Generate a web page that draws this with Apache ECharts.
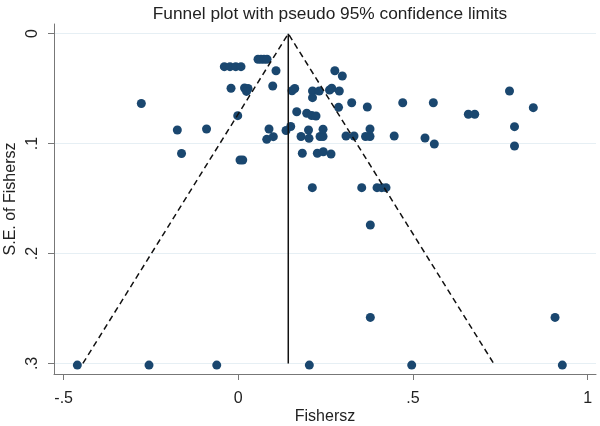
<!DOCTYPE html>
<html>
<head>
<meta charset="utf-8">
<script src="https://cdn.jsdelivr.net/npm/echarts@6/dist/echarts.min.js"></script>
<style>html,body{margin:0;padding:0;background:#fff}#c{width:600px;height:426px}</style>
</head>
<body>
<div id="c"></div>
<script>
const titleText = 'Funnel plot with pseudo 95% confidence limits';
const xTickValues = [-0.5, 0, 0.5, 1];
const xTickLabels = ['-.5', '0', '.5', '1'];
const yTickValues = [0, 0.1, 0.2, 0.3];
const yTickLabels = ['0', '.1', '.2', '.3'];
const pooledEstimate = 0.143;
const seMax = 0.3;

const fishersz = [
  -0.2777, -0.0401, -0.0238, -0.0074, 0.0077, 0.0564, 0.0650, 0.0736, 0.0822, 0.1079,
  -0.0209, 0.0178, 0.0278, 0.0235, 0.0985, -0.0017, -0.1746, -0.0910, -0.1626, 0.0049,
  0.0126, 0.0879, 0.0813, 0.1002, 0.1366, 0.1500, 0.1537, 0.1615, 0.1672, 0.1795,
  0.1832, 0.2763, 0.2977, 0.2124, 0.2316, 0.2124, 0.2611, 0.2674, 0.2891, 0.2869,
  0.3246, 0.3693, 0.4707, 0.5583, 0.7764, 0.8445, 0.6585, 0.6768, 0.7907, 0.7907,
  0.1958, 0.2101, 0.2224, 0.2010, 0.2024, 0.2339, 0.2425, 0.2425, 0.3083, 0.3312,
  0.3642, 0.3770, 0.3770, 0.4463, 0.5345, 0.5611, 0.2262, 0.2433, 0.2654, 0.2119,
  0.3533, 0.3971, 0.4105, 0.4228, 0.3779, 0.3779, 0.9067, -0.4609, -0.2557, -0.0618,
  0.2033, 0.4964, 0.9276
];
const seFishersz = [
  0.0635, 0.0300, 0.0300, 0.0300, 0.0300, 0.0233, 0.0233, 0.0233, 0.0233, 0.0337,
  0.0497, 0.0494, 0.0499, 0.0525, 0.0476, 0.0746, 0.0876, 0.0867, 0.1090, 0.1149,
  0.1149, 0.0867, 0.0961, 0.0937, 0.0881, 0.0844, 0.0519, 0.0499, 0.0710, 0.0935,
  0.1088, 0.0337, 0.0385, 0.0521, 0.0521, 0.0582, 0.0512, 0.0497, 0.0521, 0.0670,
  0.0628, 0.0667, 0.0628, 0.0628, 0.0521, 0.0673, 0.0733, 0.0733, 0.0846, 0.1022,
  0.0724, 0.0744, 0.0749, 0.0876, 0.0952, 0.0935, 0.0935, 0.0869, 0.0931, 0.0931,
  0.0935, 0.0935, 0.0867, 0.0931, 0.0949, 0.1004, 0.1088, 0.1074, 0.1095, 0.1401,
  0.1401, 0.1401, 0.1401, 0.1401, 0.1741, 0.2581, 0.2581, 0.3015, 0.3015, 0.3015,
  0.3015, 0.3015, 0.3015
];

const points = fishersz.map((v, i) => [v, seFishersz[i]]);
const lowerEnd = pooledEstimate - 1.96 * seMax;
const upperEnd = pooledEstimate + 1.96 * seMax;

const chart = echarts.init(document.getElementById('c'), null, {renderer: 'canvas'});
const font = 'Liberation Sans, Arial, Helvetica, sans-serif';
chart.setOption({
  animation: false,
  backgroundColor: '#ffffff',
  title: {
    text: titleText,
    left: 325, top: 1, textAlign: 'center',
    textStyle: {fontFamily: font, fontSize: 17.3, fontWeight: 'normal', color: '#222'}
  },
  grid: {left: 54, right: 4, top: 24, bottom: 52, containLabel: false, outerBoundsMode: 'none'},
  xAxis: {
    type: 'value', min: -0.5277, max: 1.024,
    name: 'Fishersz', nameLocation: 'middle', nameGap: 35, nameMoveOverlap: false,
    nameTextStyle: {fontFamily: font, fontSize: 16, color: '#222'},
    axisLine: {show: true, onZero: false, lineStyle: {color: '#777', width: 1}},
    axisTick: {show: true, length: 6, customValues: xTickValues, lineStyle: {color: '#777'}},
    axisLabel: {
      customValues: xTickValues, margin: 17, fontFamily: font, fontSize: 16, color: '#222',
      formatter: v => xTickLabels[xTickValues.findIndex(t => Math.abs(t - v) < 1e-9)] ?? ''
    },
    splitLine: {show: false}
  },
  yAxis: {
    type: 'value', inverse: true, min: -0.0088, max: 0.3096,
    name: 'S.E. of Fishersz', nameLocation: 'middle', nameGap: 35, nameRotate: 90, nameMoveOverlap: false,
    nameTextStyle: {fontFamily: font, fontSize: 16, color: '#222'},
    axisLine: {show: true, onZero: false, lineStyle: {color: '#777', width: 1}},
    axisTick: {show: true, length: 6, customValues: yTickValues, lineStyle: {color: '#777'}},
    axisLabel: {
      customValues: yTickValues, rotate: 90, margin: 13, fontFamily: font, fontSize: 16, color: '#222',
      formatter: v => yTickLabels[yTickValues.findIndex(t => Math.abs(t - v) < 1e-9)] ?? ''
    },
    splitLine: {show: true, lineStyle: {color: '#e6eff4', width: 1}}
  },
  series: [
    {
      type: 'scatter', data: points, symbol: 'circle', symbolSize: 9,
      itemStyle: {color: '#1a476f', opacity: 1}, z: 2
    },
    {
      type: 'line', data: [[pooledEstimate, 0], [pooledEstimate, seMax]],
      symbol: 'none', lineStyle: {color: '#111', width: 1.5}, z: 3
    },
    {
      type: 'line', data: [[lowerEnd, seMax], [pooledEstimate, 0], [upperEnd, seMax]],
      symbol: 'none', lineStyle: {color: '#111', width: 1.5, type: [6, 4]}, z: 3
    }
  ]
});
</script>
</body>
</html>
